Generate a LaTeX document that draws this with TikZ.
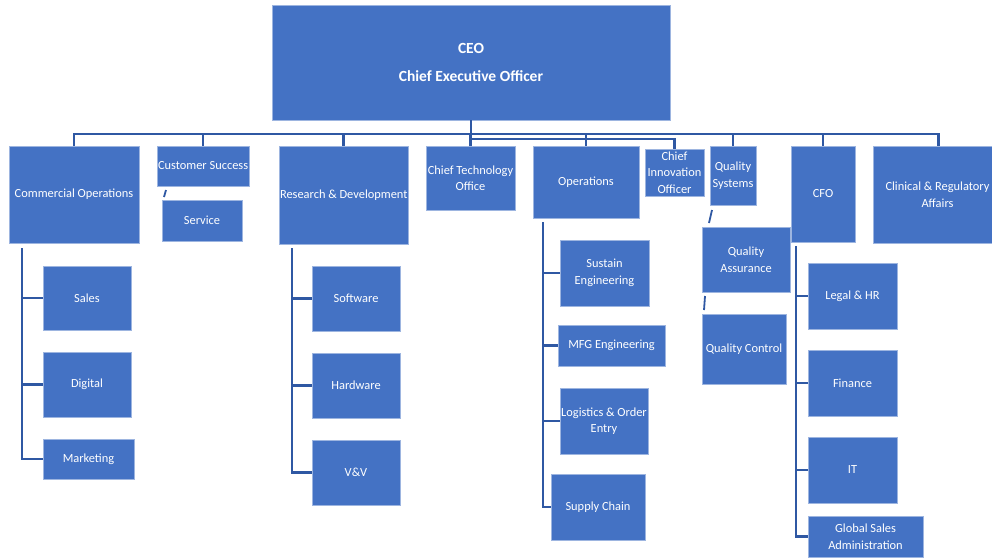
\documentclass[tikz,border=0pt]{standalone}
\usepackage{fontspec}
\setmainfont{Carlito}
\usepackage{tikz}
\usetikzlibrary{positioning}
\definecolor{orgblue}{HTML}{4472C4}
\definecolor{orgedge}{HTML}{9DB5E0}
\definecolor{orglink}{HTML}{2F58A3}

\begin{document}
\begin{tikzpicture}[x=1pt, y=-1pt, node distance=0pt,
    every node/.style={outer sep=0pt},
    orgbox/.style={rectangle, fill=orgblue, draw=orgedge, line width=0.6pt, text=white,
        anchor=north west, inner sep=1pt, align=center,
        font=\fontsize{12.4}{16.5}\selectfont},
    sz/.style 2 args={minimum width=#1pt, minimum height=#2pt},
    link/.style={draw=orglink, line width=2.8pt}]
        \fill[white] (0,0) rectangle (992,557);
        \useasboundingbox (0,0) rectangle (992,557);
      % top level
        \node (ceo) [orgbox, sz={398}{115}, font=\fontsize{15.5}{28}\selectfont\bfseries] at (272,5) {CEO\\Chief Executive Officer};
        \node (com) [orgbox, sz={130}{97}] at (9,146) {Commercial Operations};
        \node (cs) [orgbox, sz={91}{40}] at (157,146) {Customer Success};
        \node (svc) [orgbox, sz={80}{41}] at (162,200) {Service};
        \node (rd) [orgbox, sz={129}{98}] at (279,146) {Research \& Development};
        \node (cto) [orgbox, sz={89}{64}] at (426,146) {Chief Technology\\Office};
        \node (ops) [orgbox, sz={106}{72}] at (533,146) {Operations};
        \node (cio) [orgbox, sz={59}{47}] at (645,149) {Chief\\Innovation\\Officer};
        \node (qs) [orgbox, sz={46}{59}] at (710,146) {Quality\\Systems};
        \node (cfo) [orgbox, sz={64}{96}] at (791,146) {CFO};
        \node (cra) [orgbox, sz={119}{97}] at (873,146) {\hspace*{10pt}Clinical \& Regulatory\\\hspace*{10pt}Affairs};
      % commercial
        \node (sales) [orgbox, sz={88}{64}] at (43,266) {Sales};
        \node (dig) [orgbox, sz={88}{65}] at (43,352) {Digital};
        \node (mkt) [orgbox, sz={91}{40}] at (43,439) {Marketing};
      % r&d
        \node (sw) [orgbox, sz={88}{65}] at (312,266) {Software};
        \node (hw) [orgbox, sz={88}{65}] at (312,353) {Hardware};
        \node (vv) [orgbox, sz={88}{65}] at (312,440) {V\&V};
      % operations
        \node (sus) [orgbox, sz={89}{66}] at (560,240) {Sustain\\Engineering};
        \node (mfg) [orgbox, sz={107}{41}] at (558,325) {MFG Engineering};
        \node (log) [orgbox, sz={88}{66}] at (560,388) {Logistics \& Order\\Entry};
        \node (sc) [orgbox, sz={94}{66}] at (551,474) {Supply Chain};
      % quality
        \node (qa) [orgbox, sz={88}{65}] at (702,227) {Quality\\Assurance};
        \node (qc) [orgbox, sz={84}{70}] at (702,314) {Quality Control};
      % cfo
        \node (legal) [orgbox, sz={89}{66}] at (808,263) {Legal \& HR};
        \node (fin) [orgbox, sz={89}{66}] at (808,350) {Finance};
        \node (it) [orgbox, sz={89}{66}] at (808,437) {IT};
        \node (gsa) [orgbox, sz={115}{41}] at (808,516) {Global Sales\\Administration};

      % bus under the CEO
        \coordinate (bus) at (471,134);
        \coordinate (bus2) at (471,139);
        \draw[link] (com.north) |- (bus) -| ([xshift=6pt]cra.north);
        \draw[link] (ceo.south) -- ([yshift=-8pt]ceo.south |- bus);
        \draw[link] (bus2) -| (cio.north);
        \foreach \n in {cs,rd,cto,ops,qs,cfo}
          \draw[link] (\n.north) -- (\n.north |- bus);

      % side trunks
        \coordinate (comtrunk) at (22,248);
        \draw[link] (comtrunk) |- (mkt.west);
        \foreach \n in {sales,dig} \draw[link] (\n.west) -- (\n.west -| comtrunk);
        \coordinate (rdtrunk) at (292,248);
        \draw[link] (rdtrunk) |- (vv.west);
        \foreach \n in {sw,hw} \draw[link] (\n.west) -- (\n.west -| rdtrunk);
        \coordinate (opstrunk) at (543,222);
        \draw[link] (opstrunk) |- (sc.west);
        \foreach \n in {sus,mfg,log} \draw[link] (\n.west) -- (\n.west -| opstrunk);
        \coordinate (cfotrunk) at (796,246);
        \draw[link] (cfotrunk) |- (gsa.west);
        \foreach \n in {legal,fin,it} \draw[link] (\n.west) -- (\n.west -| cfotrunk);

      % short slanted ties
        \draw[link, line width=1.8pt] ([shift={(9,4)}]cs.south west) -- ([shift={(2,-3)}]svc.north west);
        \draw[link, line width=1.8pt] ([shift={(2,5)}]qs.south west) -- ([shift={(7,-4)}]qa.north west);
        \draw[link, line width=1.8pt] ([shift={(3,4)}]qa.south west) -- ([shift={(2,-4)}]qc.north west);
    \end{tikzpicture}
\end{document}
